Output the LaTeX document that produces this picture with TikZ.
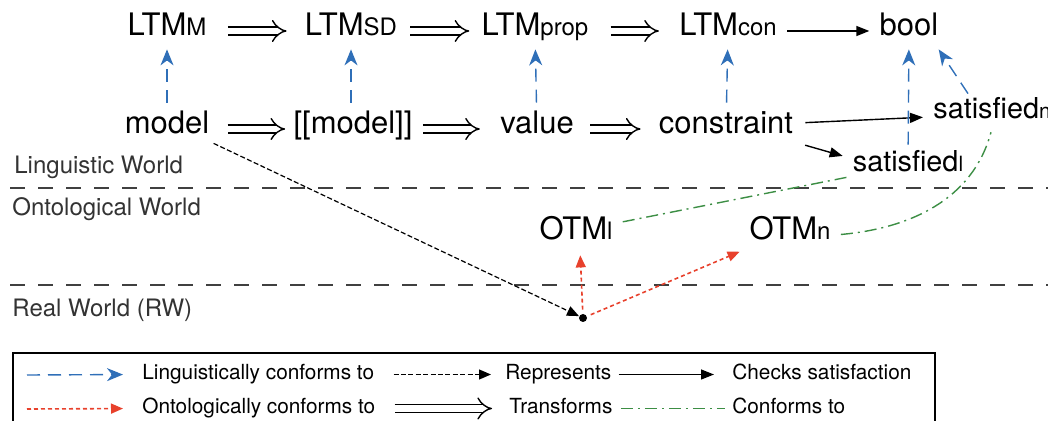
\documentclass[tikz,border=0pt]{standalone}
\usepackage{fontspec}
\setmainfont{TeX Gyre Heros}
\usetikzlibrary{arrows.meta}

\definecolor{lblue}{HTML}{2F6FB8}
\definecolor{ored}{HTML}{E8412C}
\definecolor{cgreen}{HTML}{3C8E44}
\newcommand{\lsub}[1]{{\fontsize{12}{14}\selectfont #1}}
\newcommand{\ssub}[1]{{\fontsize{10.5}{12}\selectfont #1}}

\begin{document}
\begin{tikzpicture}[x=0.5pt, y=-0.5pt,
    term/.style={inner sep=2pt, anchor=base, font=\fontsize{15.5}{18}\selectfont, text height=0.75em, text depth=0.25em},
    sterm/.style={term, font=\fontsize{14.4}{17}\selectfont},
    world/.style={inner sep=0pt, anchor=base west, font=\fontsize{12}{14}\selectfont, text=black!80},
    legtext/.style={inner sep=2pt, anchor=base west, font=\fontsize{10.4}{12}\selectfont, text height=0.75em, text depth=0.2em},
    sep/.style={black!75, line width=0.8pt, dash pattern=on 7.5pt off 6.5pt},
    transform/.style={double, double distance=3.2pt, line width=0.7pt, -{Implies}},
    lconf/.style={lblue, line width=0.7pt, dash pattern=on 6.5pt off 4pt, -{Stealth[length=8pt, width=6.5pt, inset=2.5pt]}},
    oconf/.style={ored, line width=0.8pt, dash pattern=on 2pt off 1.5pt, -{Triangle[length=6pt, width=5pt]}},
    repr/.style={black, line width=0.6pt, dash pattern=on 2.5pt off 1.2pt, -{Triangle[length=6pt, width=5pt]}},
    check/.style={black, line width=0.7pt, -{Triangle[length=6.5pt, width=5pt]}},
    conf/.style={cgreen, line width=0.7pt, dash pattern=on 6pt off 2.5pt on 1pt off 2.5pt}]

    \useasboundingbox (0,0) rectangle (1048,421);

    % 三个世界的分隔线
    \draw[sep] (10,188) -- (1048,188);
    \draw[sep] (10,285) -- (1048,285);
    \node[world] (lw) at (14,174) {Linguistic World};
    \node[world] (ow) at (12,216) {Ontological World};
    \node[world] (rw) at (12,317) {Real World (RW)};

    % 上面一行
    \node[term] (ltmM) at (167,36) {LTM\lsub{M}};
    \node[term] (ltmSD) at (351,36) {LTM\lsub{SD}};
    \node[term] (ltmProp) at (535,36) {LTM\lsub{prop}};
    \node[term] (ltmCon) at (728,36) {LTM\lsub{con}};
    \node[term] (bool) at (909,36) {bool};

    % 中间一行
    \node[term] (model) at (167,134) {model};
    \node[term] (sem) at (353,134) {[[model]]};
    \node[term] (value) at (537,134) {value};
    \node[term] (constraint) at (726,134) {constraint};
    \node[sterm, anchor=base west] (satn) at (929,119) {satisfied\ssub{n}};
    \node[sterm] (satl) at (908,172) {satisfied\ssub{l}};

    % 本体世界和现实世界
    \node[term] (otml) at (576,240) {OTM\lsub{l}};
    \node[term] (otmn) at (790,240) {OTM\lsub{n}};
    \node[circle, fill, inner sep=0pt, minimum size=4pt] (dot) at (583,318) {};

    % 变换
    \draw[transform, shorten <=8.5pt, shorten >=7pt] (ltmM) -- (ltmSD);
    \draw[transform, shorten <=4.5pt, shorten >=4pt] (ltmSD) -- (ltmProp);
    \draw[transform, shorten <=9pt, shorten >=8pt] (ltmProp) -- (ltmCon);
    \draw[transform, shorten <=7pt, shorten >=2pt] (model) -- (sem);
    \draw[transform, shorten <=3pt, shorten >=8pt] (sem) -- (value);
    \draw[transform, shorten <=6pt, shorten >=7pt] (value) -- (constraint);

    % 检查满足
    \draw[check, shorten <=3pt, shorten >=3pt] (ltmCon) -- (bool);
    \draw[check, shorten <=4pt, shorten >=3pt] ([yshift=3pt]constraint.east) -- ([yshift=-1.5pt]satn.west);
    \draw[check, shorten <=4pt, shorten >=3pt] ([yshift=-7pt]constraint.east) -- ([yshift=-2.5pt]satl.north west);

    % 语言一致
    \draw[lconf, shorten <=6pt, shorten >=2pt] (model) -- (ltmM);
    \draw[lconf, shorten <=6pt, shorten >=2pt] (sem.north -| ltmSD) -- (ltmSD);
    \draw[lconf, shorten <=6pt, shorten >=2pt] (value) -- (ltmProp);
    \draw[lconf, shorten <=6pt, shorten >=2pt] (constraint) -- (ltmCon);
    \draw[lconf, shorten <=4pt, shorten >=2pt] (satl) -- (bool);
    \draw[lconf] ([xshift=19.5pt, yshift=3pt]satn.north west) -- ([xshift=-2pt, yshift=-2pt]bool.south east);

    % 表示与本体一致
    \draw[repr] (model.south east) -- (dot);
    \draw[oconf, shorten <=2pt, shorten >=3pt] (dot) -- ([xshift=2pt]otml.south);
    \draw[oconf, shorten <=2pt, shorten >=3pt] (dot) -- (otmn.south west);

    % 一致
    \draw[conf, shorten <=3pt] ([yshift=6pt]otml.east) -- ([yshift=-5pt]satl.west);
    \draw[conf, shorten <=3pt, shorten >=2pt] (otmn.east) to[out=5, in=-105] ([xshift=31.5pt]satn.south west);

    % 图例
    \draw[line width=0.8pt] (13,353) rectangle (935,450);
    \coordinate (k1) at (27,375);
    \coordinate (k2) at (27,409);
    \node[legtext] (t1) at (138,380) {Linguistically conforms to};
    \node[legtext] (t2) at (138,414) {Ontologically conforms to};
    \node[legtext] (t3) at (501,380) {Represents};
    \node[legtext] (t4) at (505,414) {Transforms};
    \node[legtext] (t5) at (728,380) {Checks satisfaction};
    \node[legtext] (t6) at (728,414) {Conforms to};

    \draw[lconf, shorten >=7.5pt] (k1) -- (t1.west);
    \draw[oconf, shorten >=7.5pt] (k2) -- (t2.west);
    \draw[repr, shorten <=7.5pt, shorten >=5pt] (t1.east) -- (t3.west);
    \draw[transform, shorten <=7.5pt, shorten >=6.5pt] (t2.east) -- (t4.west);
    \draw[check, shorten <=1.5pt, shorten >=7pt] (t3.east) -- (t5.west);
    \draw[conf, shorten <=2pt, shorten >=1.5pt] (t4.east) -- (t6.west);

\end{tikzpicture}
\end{document}
